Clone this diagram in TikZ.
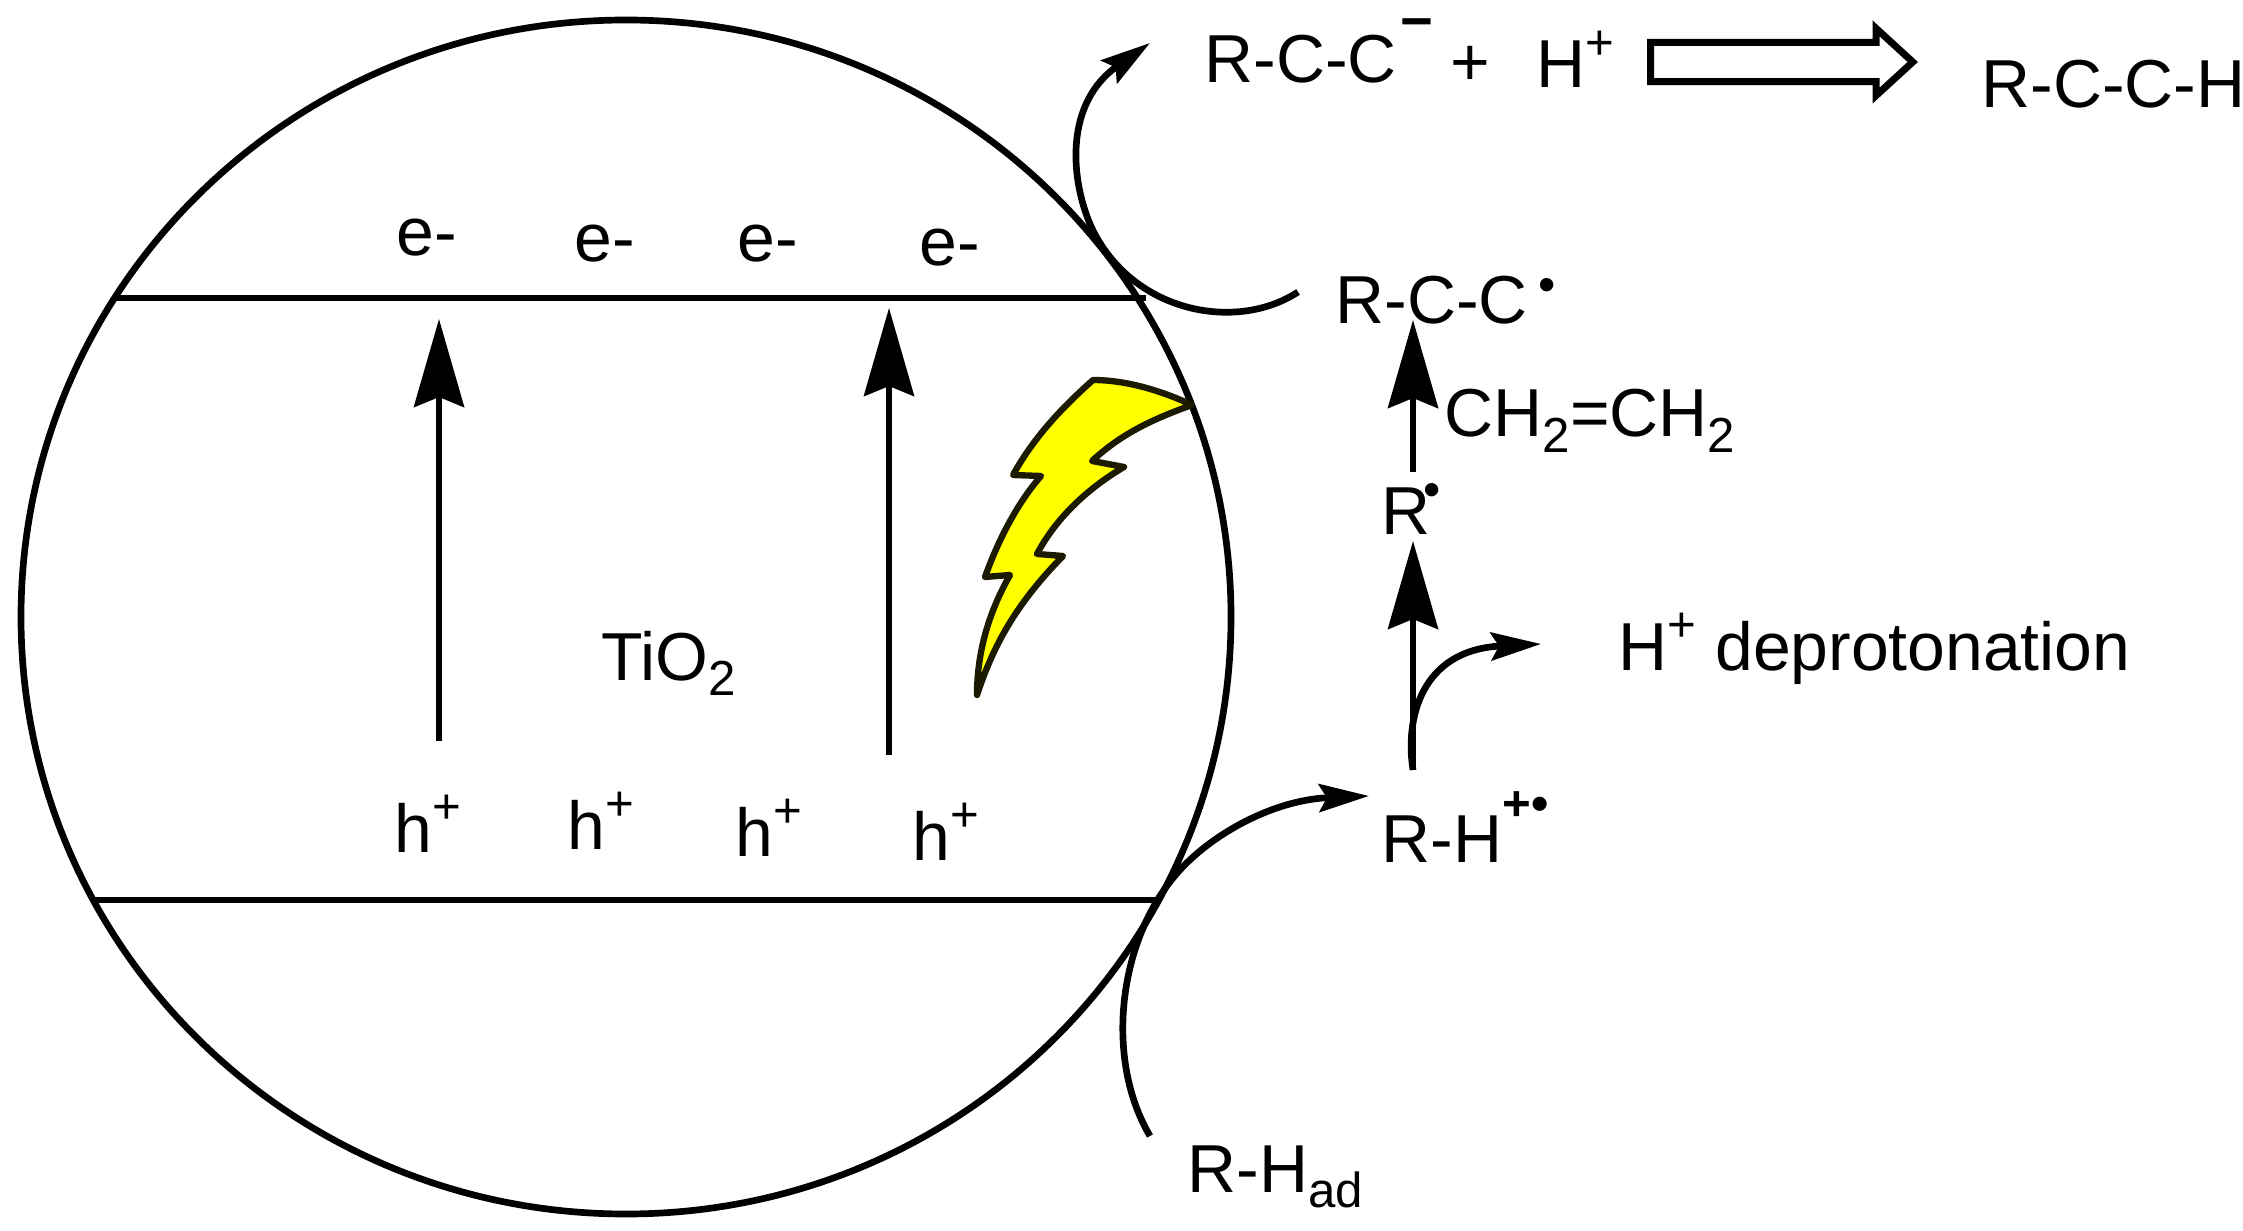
\documentclass[tikz,border=0pt]{standalone}
\usepackage{fontspec}
\setmainfont{Liberation Sans}
\usetikzlibrary{arrows.meta,shapes.arrows}
\definecolor{boltfill}{RGB}{255,255,0}
\definecolor{boltline}{RGB}{28,26,0}
\newcommand{\sups}[1]{\raisebox{8pt}{\fontsize{14}{14}\selectfont #1}}
\newcommand{\subs}[1]{\raisebox{-4.3pt}{\fontsize{14}{14}\selectfont #1}}
\newcommand{\raddot}[1]{\raisebox{#1}{\fontsize{14}{14}\selectfont\textbullet}}
\tikzset{
  txt/.style={anchor=base west, inner sep=0pt, font=\fontsize{19.3}{23}\selectfont},
  band/.style={line width=1.9pt},
  bigup/.style={line width=1.6pt, -{Stealth[length=0.88cm, width=0.5cm, inset=0.1cm]}},
  curved/.style={line width=1.9pt, -{Stealth[length=0.5cm, width=0.28cm, inset=0.08cm]}},
  blockarrow/.style={draw, line width=2pt, single arrow, inner xsep=0pt, inner ysep=0.16cm, outer sep=0pt,
    minimum height=2.62cm, single arrow head extend=0.14cm,
    single arrow tip angle=85},
  bolt/.style={draw=boltline, fill=boltfill, line width=1.8pt, line join=round}
}
\begin{document}
\begin{tikzpicture}[x=0.01cm, y=-0.01cm]
\useasboundingbox (0, 0) rectangle (2243, 1231);
\draw[band] (626, 617) circle [x radius=605, y radius=597];
\draw[band] (115, 298) -- (1146, 298);
\draw[band] (94, 900) -- (1157, 900);
% bolt
\draw[bolt] (977, 695) .. controls (977, 650) and (990, 610) .. (1010, 575) -- (985, 577)
  .. controls (1000, 535) and (1020, 500) .. (1041, 476) -- (1013, 475)
  .. controls (1035, 435) and (1065, 405) .. (1093, 380)
  .. controls (1125, 380) and (1160, 390) .. (1192, 405)
  .. controls (1150, 420) and (1120, 435) .. (1092, 461) -- (1124, 467)
  .. controls (1085, 490) and (1055, 520) .. (1037, 554) -- (1063, 556)
  .. controls (1020, 600) and (995, 640) .. cycle;
% labels in the circle
\node[txt] (e1) at (396, 256) {e-};
\node[txt] (e2) at (574, 262) {e-};
\node[txt] (e3) at (737, 262) {e-};
\node[txt] (e4) at (919, 266) {e-};
\node[txt] (h1) at (394, 852) {h\sups{+}};
\node[txt] (h2) at (567, 849) {h\sups{+}};
\node[txt] (h3) at (735, 856) {h\sups{+}};
\node[txt] (h4) at (912, 860) {h\sups{+}};
\node[txt] (tio) at (601, 680) {TiO\subs{2}};
% labels on the right
\node[txt] (anion) at (1204, 83) {R-C-C\hspace{1pt}\raisebox{12.1pt}{\fontsize{16}{16}\selectfont\bfseries −}};
\node[txt] (plus) at (1450, 86) {+};
\node[txt] (proton) at (1536, 88) {H\sups{+}};
\node[blockarrow] (yield) at (1771, 62) {};
\node[txt] (alkyne) at (1981, 108) {R-C-C-H};
\node[txt] (rcc) at (1335, 324) {R-C-C\hspace{3pt}\raddot{6.3pt}};
\node[txt] (ethene) at (1444, 437) {CH\subs{2}=CH\subs{2}};
\node[txt] (rrad) at (1381, 535) {R\hspace{-2pt}\raddot{8.2pt}};
\node[txt] (deprot) at (1618, 670) {H\sups{+} deprotonation};
\node[txt] (rhrad) at (1381, 862) {R-H\raisebox{11.7pt}{\fontsize{14}{14}\selectfont\bfseries +\raddot{0pt}}};
\node[txt] (rhad) at (1187, 1192) {R-H\subs{ad}};
% ends of the arrows
\coordinate (upa) at (439, 741);
\coordinate (upb) at (439, 319);
\coordinate (upc) at (889, 755);
\coordinate (upd) at (889, 308);
\coordinate (adsorb) at (1150, 1136);
\coordinate (ox) at (1369, 796);
\coordinate (rhtop) at (1413, 770);
\coordinate (rbot) at (1413, 541);
\coordinate (hout) at (1541, 644);
\coordinate (rtop) at (1413, 472);
\coordinate (rcctip) at (1413, 320);
\coordinate (rccout) at (1298, 292);
\coordinate (anionin) at (1150, 43);
\draw[bigup] (upa) -- (upb);
\draw[bigup] (upc) -- (upd);
\draw[bigup] (rhtop) -- (rbot);
\draw[bigup] (rtop) -- (rcctip);
\draw[curved] (adsorb) .. controls (1105, 1060) and (1118, 945) .. (1173, 878)
  .. controls (1205, 838) and (1270, 800) .. (ox);
\draw[curved] (rhtop) .. controls (1405, 720) and (1420, 650) .. (hout);
\draw[curved] (rccout) .. controls (1240, 330) and (1145, 315) .. (1100, 243)
  .. controls (1075, 205) and (1055, 110) .. (anionin);
\end{tikzpicture}
\end{document}
